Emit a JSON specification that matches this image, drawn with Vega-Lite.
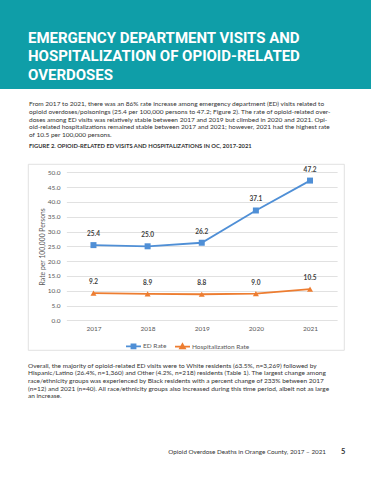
{
  "$schema": "https://vega.github.io/schema/vega-lite/v6.json",
  "background": "white",
  "padding": 0,
  "spacing": 11,
  "config": {"view": {"stroke": null}},
  "vconcat": [
    {
      "width": 371,
      "height": 89,
      "view": {"fill": "#0f9ea8", "stroke": null},
      "data": {"values": []},
      "mark": "rect",
      "title": {
        "text": ["EMERGENCY DEPARTMENT VISITS AND", "HOSPITALIZATION OF OPIOID-RELATED", "OVERDOSES"],
        "anchor": "start",
        "dx": 28,
        "offset": -83,
        "font": "Roboto",
        "fontSize": 15,
        "fontWeight": "bold",
        "color": "white",
        "lineHeight": 18.7
      }
    },
    {
      "spacing": 0,
      "hconcat": [
        {"width": 27, "height": 1, "data": {"values": []}, "mark": "rect"},
        {
          "width": 316,
          "height": 186,
          "view": {"stroke": "#d9d9d9", "strokeWidth": 0.8},
          "title": {
            "text": [
              "From 2017 to 2021, there was an 86% rate increase among emergency department (ED) visits related to",
              "opioid overdoses/poisonings (25.4 per 100,000 persons to 47.2; Figure 2). The rate of opioid-related over-",
              "doses among ED visits was relatively stable between 2017 and 2019 but climbed in 2020 and 2021. Opi-",
              "oid-related hospitalizations remained stable between 2017 and 2021; however, 2021 had the highest rate",
              "of 10.5 per 100,000 persons."
            ],
            "subtitle": "FIGURE 2. OPIOID-RELATED ED VISITS AND HOSPITALIZATIONS IN OC, 2017-2021",
            "anchor": "start",
            "dx": 1,
            "offset": 15.6,
            "font": "Lato",
            "fontSize": 6.5,
            "fontWeight": "normal",
            "color": "#333333",
            "lineHeight": 7.7,
            "subtitleFont": "Lato",
            "subtitleFontSize": 5.8,
            "subtitleFontWeight": "bold",
            "subtitleColor": "#333333",
            "subtitlePadding": 4
          },
          "data": {
            "values": [
              {"year": "2017", "series": "ED Rate", "rate": 25.4},
              {"year": "2018", "series": "ED Rate", "rate": 25.0},
              {"year": "2019", "series": "ED Rate", "rate": 26.2},
              {"year": "2020", "series": "ED Rate", "rate": 37.1},
              {"year": "2021", "series": "ED Rate", "rate": 47.2},
              {"year": "2017", "series": "Hospitalization Rate", "rate": 9.2},
              {"year": "2018", "series": "Hospitalization Rate", "rate": 8.9},
              {"year": "2019", "series": "Hospitalization Rate", "rate": 8.8},
              {"year": "2020", "series": "Hospitalization Rate", "rate": 9.0},
              {"year": "2021", "series": "Hospitalization Rate", "rate": 10.5}
            ]
          },
          "encoding": {
            "x": {
              "field": "year",
              "type": "ordinal",
              "scale": {"type": "point", "range": [38.4, 309.1], "padding": 0.5},
              "axis": {
                "title": null,
                "domain": false,
                "ticks": false,
                "grid": false,
                "labelAngle": 0,
                "labelFont": "Lato",
                "labelFontSize": 6.5,
                "labelColor": "#595959",
                "labelPadding": 5,
                "offset": -29.7
              }
            },
            "y": {
              "field": "rate",
              "type": "quantitative",
              "scale": {"domain": [0, 50], "range": [156.3, 8.3], "nice": false, "zero": true},
              "axis": {
                "title": "Rate per 100,000 Persons",
                "values": [0, 5, 10, 15, 20, 25, 30, 35, 40, 45, 50],
                "format": ".1f",
                "domain": false,
                "ticks": false,
                "grid": true,
                "gridColor": "#d9d9d9",
                "gridWidth": 0.8,
                "labelFont": "Lato",
                "labelFontSize": 6.5,
                "labelColor": "#595959",
                "labelPadding": 2,
                "offset": -34,
                "titleFont": "Lato",
                "titleFontSize": 6.8,
                "titleFontWeight": "normal",
                "titleColor": "#595959",
                "titlePadding": 2
              }
            }
          },
          "layer": [
            {
              "mark": {"type": "line", "strokeWidth": 1.8},
              "encoding": {
                "color": {
                  "field": "series",
                  "type": "nominal",
                  "scale": {"domain": ["ED Rate", "Hospitalization Rate"], "range": ["#4f8fd6", "#ed7d31"]},
                  "legend": {
                    "orient": "none",
                    "legendX": 125,
                    "legendY": 337.5,
                    "direction": "horizontal",
                    "title": null,
                    "padding": 0,
                    "labelFont": "Lato",
                    "labelFontSize": 6.5,
                    "labelColor": "#595959",
                    "labelOffset": 1,
                    "columnPadding": 4,
                    "symbolType": "stroke",
                    "symbolSize": 225,
                    "symbolStrokeWidth": 1.8,
                    "encode": {
                      "symbols": {
                        "update": {
                          "shape": {"signal": "datum.value === 'ED Rate' ? 'M-1,0H1M-0.27,-0.27H0.27V0.27H-0.27Z' : 'M-1,0H1M0,-0.32L0.32,0.24H-0.32Z'"},
                          "fill": {"signal": "datum.value === 'ED Rate' ? '#4f8fd6' : '#ed7d31'"}
                        }
                      }
                    }
                  }
                }
              }
            },
            {
              "transform": [{"filter": "datum.series === 'ED Rate'"}],
              "mark": {"type": "point", "filled": true, "size": 36, "opacity": 1, "shape": "square", "color": "#4f8fd6"}
            },
            {
              "transform": [{"filter": "datum.series === 'Hospitalization Rate'"}],
              "mark": {"type": "point", "filled": true, "size": 36, "opacity": 1, "shape": "triangle-up", "color": "#ed7d31"}
            },
            {
              "mark": {"type": "text", "dy": -11, "font": "Lato", "fontSize": 6.5, "fontWeight": "bold", "color": "#404040"},
              "encoding": {"text": {"field": "rate", "type": "quantitative", "format": ".1f"}}
            }
          ]
        }
      ]
    },
    {
      "width": 1,
      "height": 36,
      "data": {"values": []},
      "mark": "rect",
      "title": {
        "text": [
          "Overall, the majority of opioid-related ED visits were to White residents (63.5%, n=3,269) followed by",
          "Hispanic/Latino (26.4%, n=1,360) and Other (4.2%, n=218) residents (Table 1). The largest change among",
          "race/ethnicity groups was experienced by Black residents with a percent change of 233% between 2017",
          "(n=12) and 2021 (n=40). All race/ethnicity groups also increased during this time period, albeit not as large",
          "an increase."
        ],
        "anchor": "start",
        "dx": 28,
        "offset": 0,
        "font": "Lato",
        "fontSize": 6.5,
        "fontWeight": "normal",
        "color": "#333333",
        "lineHeight": 7.7
      }
    },
    {
      "spacing": 0,
      "hconcat": [
        {
          "width": 327,
          "height": 2,
          "data": {"values": []},
          "mark": "rect",
          "title": {"text": "Opioid Overdose Deaths in Orange County, 2017 – 2021", "anchor": "end", "dx": -1, "offset": 0, "font": "Lato", "fontSize": 6.3, "fontWeight": "normal", "color": "#333333"}
        },
        {
          "width": 20,
          "height": 2,
          "data": {"values": []},
          "mark": "rect",
          "title": {"text": "5", "anchor": "start", "dx": 14, "offset": 0, "font": "Lato", "fontSize": 7.5, "fontWeight": "bold", "color": "#333333"}
        }
      ]
    }
  ]
}
